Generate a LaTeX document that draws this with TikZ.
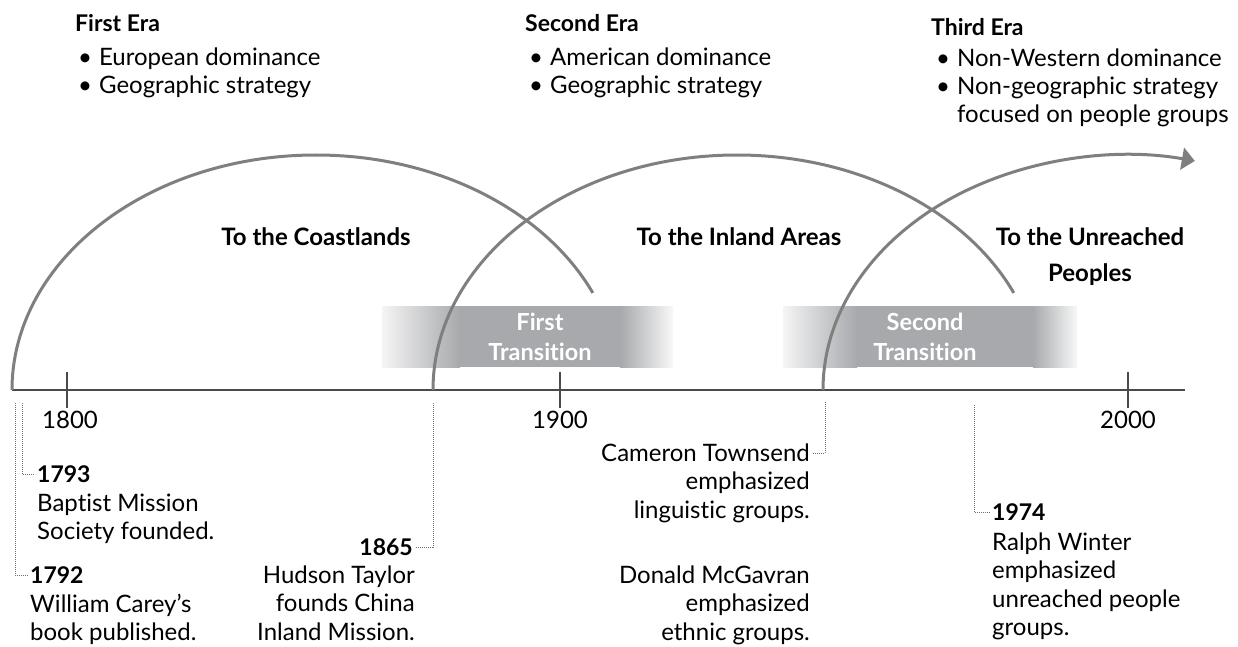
\documentclass[tikz,border=0pt]{standalone}
\usepackage{fontspec}
\setmainfont{Lato}[Ligatures={NoCommon}]
\usetikzlibrary{arrows.meta}
\definecolor{arcgray}{HTML}{7F7F7F}
\definecolor{axisgray}{HTML}{4A4A4A}
\definecolor{bandgray}{HTML}{A7A9AC}
\definecolor{dotgray}{HTML}{707070}
\newcommand{\mylines}[2]{\begin{tabular}[t]{@{}#1@{}}#2\end{tabular}}
\newcommand{\mybullets}[1]{\begin{tabular}[t]{@{}l@{\hspace{7pt}}l@{}}#1\end{tabular}}
\tikzset{
  arcline/.style={draw=arcgray, line width=3pt},
  axisline/.style={draw=axisgray, line width=2pt},
  tickline/.style={draw=axisgray, line width=1.6pt},
  dotline/.style={draw=dotgray, line width=0.8pt, dash pattern=on 0.8pt off 1.2pt, shorten >=2pt},
  body/.style={inner sep=0pt, font=\fontsize{24}{28.5}\selectfont},
  yearlab/.style={inner sep=0pt, font=\fontsize{23}{28.5}\selectfont\bfseries},
  head/.style={inner sep=0pt, font=\fontsize{23}{27}\selectfont\bfseries},
  toplist/.style={inner sep=0pt, font=\fontsize{24}{28}\selectfont},
  arclab/.style={inner sep=0pt, font=\fontsize{24}{36}\selectfont\bfseries},
  translab/.style={inner sep=0pt, text=white, align=center, font=\fontsize{23.5}{30}\selectfont\bfseries},
}
\begin{document}
\begin{tikzpicture}[x=1pt,y=-1pt]
\useasboundingbox (0,0) rectangle (1238,647);

% transition bands
\shade[left color=bandgray!12, right color=bandgray] (382,306) rectangle (460,367);
\fill[bandgray] (459.5,306) rectangle (620.5,367);
\shade[left color=bandgray, right color=bandgray!8] (620,306) rectangle (673,367);
\shade[left color=bandgray!12, right color=bandgray] (783,306) rectangle (857,367);
\fill[bandgray] (856.5,306) rectangle (1033.5,367);
\shade[left color=bandgray, right color=bandgray!8] (1033,306) rectangle (1077,367);

% axis and ticks
\coordinate (axL) at (12,390);
\coordinate (axR) at (1185,390);
\draw[axisline] (axL) -- (axR);
\draw[tickline] (67,372) -- (67,408);
\draw[tickline] (560,372) -- (560,408);
\draw[tickline] (1128,372) -- (1128,408);
\node[body, anchor=base] (t1800) at (70,428) {1800};
\node[body, anchor=base] (t1900) at (560,428) {1900};
\node[body, anchor=base] (t2000) at (1128,428) {2000};

% arcs
\coordinate (a1) at (12,390);
\coordinate (a2) at (433,390);
\coordinate (a3) at (823,390);
\draw[arcline] (a1) arc[start angle=180, end angle=24.4, x radius=304pt, y radius=235pt];
\draw[arcline] (a2) arc[start angle=180, end angle=24.4, x radius=304pt, y radius=235pt];
\draw[arcline, -{Triangle[length=13pt, width=22pt]}] (a3) arc[start angle=180, end angle=77.1, x radius=304pt, y radius=235pt];

% band labels
\node[translab] (tr1) at (540,337) {First\\Transition};
\node[translab] (tr2) at (925,337) {Second\\Transition};

% arc labels
\node[arclab, anchor=base] (coast) at (316,245) {To the Coastlands};
\node[arclab, anchor=base] (inland) at (739,245) {To the Inland Areas};
\node[arclab, anchor=base] (unreach) at (1090,245) {\mylines{c}{To the Unreached\\Peoples}};

% era headings
\node[head, anchor=base west] (era1) at (75,32) {First Era};
\node[toplist, anchor=base west] (era1l) at (78,66) {\mybullets{\textbullet & European dominance\\ \textbullet & Geographic strategy}};
\node[head, anchor=base west] (era2) at (525,32) {Second Era};
\node[toplist, anchor=base west] (era2l) at (529,66) {\mybullets{\textbullet & American dominance\\ \textbullet & Geographic strategy}};
\node[head, anchor=base west] (era3) at (931,36) {Third Era};
\node[toplist, anchor=base west] (era3l) at (936,67) {\mybullets{\textbullet & Non-Western dominance\\ \textbullet & Non-geographic strategy\\ & focused on people groups}};

% events
\coordinate (c1792) at (15,403);
\node[yearlab, anchor=base west] (y1792) at (30,583) {1792};
\node[body, anchor=base west] (d1792) at (30,612) {\mylines{l}{William Carey’s\\book published.}};
\draw[dotline] (c1792) |- ([yshift=8pt]y1792.base west);

\coordinate (c1793) at (22,403);
\node[yearlab, anchor=base west] (y1793) at (37,482) {1793};
\node[body, anchor=base west] (d1793) at (37,511) {\mylines{l}{Baptist Mission\\Society founded.}};
\draw[dotline] (c1793) |- ([yshift=8pt]y1793.base west);

\coordinate (c1865) at (433,403);
\node[yearlab, anchor=base east] (y1865) at (413,555) {1865};
\node[body, anchor=base east] (d1865) at (415,583) {\mylines{r}{Hudson Taylor\\founds China\\Inland Mission.}};
\draw[dotline] (c1865) |- ([yshift=8pt]y1865.base east);

\coordinate (ccam) at (825,402);
\node[body, anchor=base east] (dcam) at (810,461) {\mylines{r}{Cameron Townsend\\emphasized\\linguistic groups.}};
\draw[dotline] (ccam) |- ([yshift=8pt]dcam.base east);
\node[body, anchor=base east] (dmcg) at (810,583) {\mylines{r}{Donald McGavran\\emphasized\\ethnic groups.}};

\coordinate (c1974) at (974,405);
\node[yearlab, anchor=base west] (y1974) at (992,520) {1974};
\node[body, anchor=base west] (d1974) at (992,550) {\mylines{l}{Ralph Winter\\emphasized\\unreached people\\groups.}};
\draw[dotline] (c1974) |- ([yshift=8pt]y1974.base west);
\end{tikzpicture}
\end{document}
